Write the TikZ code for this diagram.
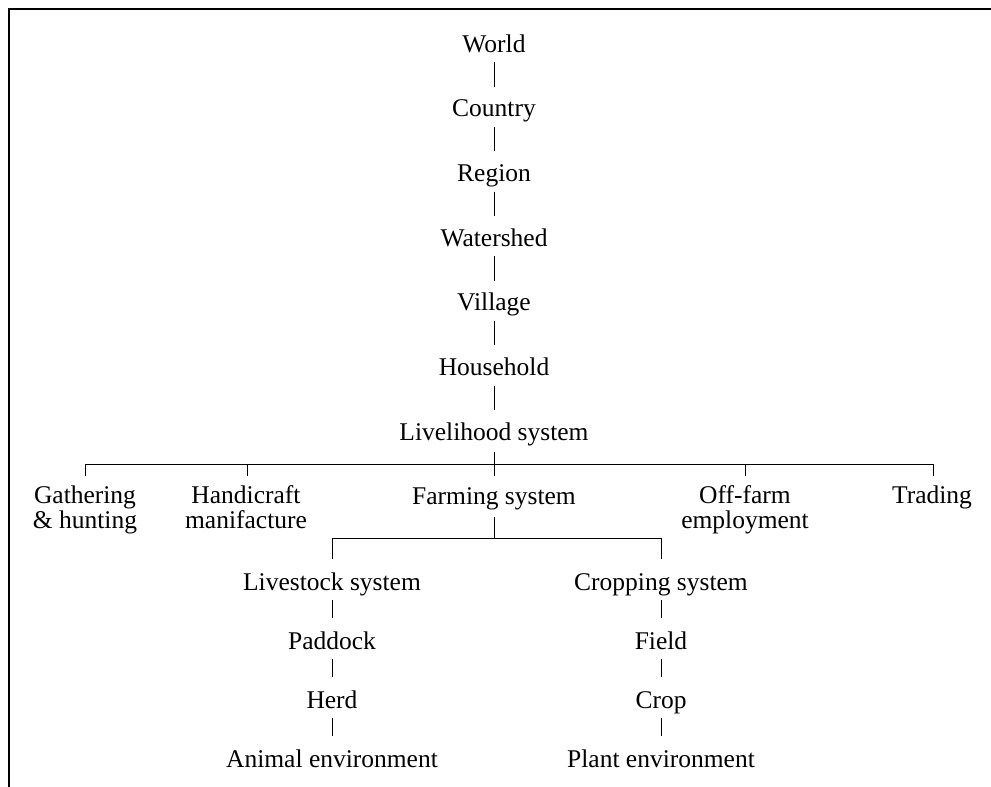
\documentclass[tikz,border=0pt]{standalone}
\usepackage{fontspec}
\setmainfont{Liberation Serif}
\begin{document}
\begin{tikzpicture}[x=1pt,y=-1pt,
  lbl/.style={font=\fontsize{25.5}{25.5}\selectfont, inner sep=0pt, anchor=base},
  up/.style={lbl, text height=30pt, text depth=10pt},
  low/.style={lbl, text height=31pt, text depth=10pt},
  ml/.style={lbl, align=center},
  conn/.style={line width=1pt}]
\useasboundingbox (0,0) rectangle (991,787);
% frame
\draw[line width=2.6pt] (9,787) -- (9,9) -- (991,9);
% upper chain
\node[up] (world) at (494,52) {World};
\node[up] (country) at (494,116.7) {Country};
\node[up] (region) at (494,181.4) {Region};
\node[up] (water) at (494,246.1) {Watershed};
\node[up] (village) at (494,310.8) {Village};
\node[up] (house) at (494,375.5) {Household};
\node[up, text depth=12pt] (liv) at (494,440.2) {Livelihood system};
\draw[conn] (world.south) -- (country.north);
\draw[conn] (country.south) -- (region.north);
\draw[conn] (region.south) -- (water.north);
\draw[conn] (water.south) -- (village.north);
\draw[conn] (village.south) -- (house.north);
\draw[conn] (house.south) -- (liv.north);
% second row (base anchor of a two-line node is its last line)
\node[ml] (gath) at (85,528.5) {Gathering\\\& hunting};
\node[ml] (hand) at (246,528.5) {Handicraft\\manifacture};
\node[lbl, text depth=13pt] (farm) at (494,504) {Farming system};
\node[ml] (off) at (745,528.5) {Off-farm\\employment};
\node[lbl] (trad) at (932,503) {Trading};
\coordinate (bl) at (85,464);
\coordinate (br) at (933,464);
\coordinate (jc) at (494,476);
\coordinate (d1) at (85,476);
\coordinate (d2) at (247,476);
\coordinate (d4) at (745,476);
\coordinate (d5) at (933,476);
\draw[conn] (liv.south) -- (jc);
\draw[conn] (d1) -- (bl) -- (br) -- (d5);
\draw[conn] (d2) -- (d2 |- bl);
\draw[conn] (d4) -- (d4 |- bl);
% farming subtree
\node[low] (live) at (332,590) {Livestock system};
\node[low] (paddock) at (332,649) {Paddock};
\node[low] (herd) at (332,708) {Herd};
\node[low] (animal) at (332,767) {Animal environment};
\node[low] (crop) at (661,590) {Cropping system};
\node[low] (field) at (661,649) {Field};
\node[low] (cropn) at (661,708) {Crop};
\node[low] (plant) at (661,767) {Plant environment};
\coordinate (fbar) at (494,538.5);
\draw[conn] (farm.south) -- (fbar);
\draw[conn] (live.north) |- (fbar) -| (crop.north);
\draw[conn] (live.south) -- (paddock.north);
\draw[conn] (paddock.south) -- (herd.north);
\draw[conn] (herd.south) -- (animal.north);
\draw[conn] (crop.south) -- (field.north);
\draw[conn] (field.south) -- (cropn.north);
\draw[conn] (cropn.south) -- (plant.north);
\end{tikzpicture}
\end{document}
